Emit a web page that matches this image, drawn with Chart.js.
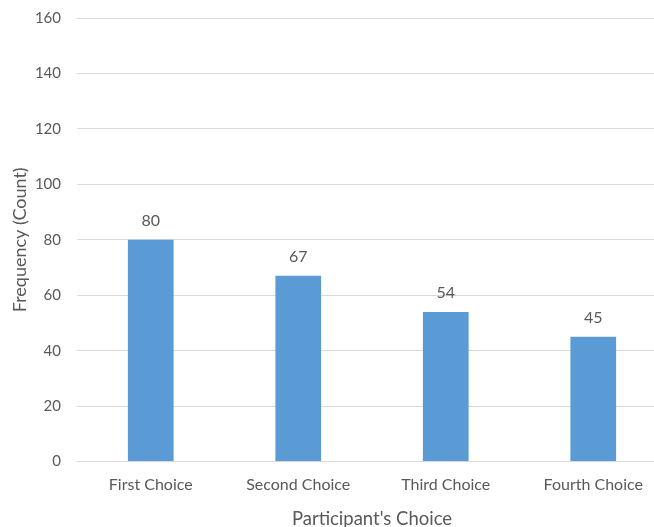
<!DOCTYPE html>
<html>
<head>
<meta charset="utf-8">
<script src="https://cdn.jsdelivr.net/npm/chart.js@4"></script>
<style>
  html, body { margin: 0; padding: 0; overflow: hidden; background: #fff; }
  #wrap { width: 669px; height: 527px; }
</style>
</head>
<body>
<div id="wrap"><canvas id="grafica" width="669" height="527"></canvas></div>
<script>
// datos
const categorias = ["First Choice", "Second Choice", "Third Choice", "Fourth Choice"];
const frecuencias = [80, 67, 54, 45];
const ticksY = [0, 20, 40, 60, 80, 100, 120, 140, 160];

const gris = "#595959";
const fuente = "Lato, 'Open Sans', sans-serif";

// etiquetas encima de cada barra
const etiquetas = {
    id: 'etiquetas',
    afterDatasetsDraw(chart) {
        const ctx = chart.ctx;
        const meta = chart.getDatasetMeta(0);
        ctx.save();
        ctx.fillStyle = gris;
        ctx.font = "16px " + fuente;
        ctx.textAlign = "center";
        ctx.textBaseline = "bottom";
        meta.data.forEach(function (barra, i) {
            ctx.fillText(chart.data.datasets[0].data[i], barra.x, barra.y - 11);
        });
        ctx.restore();
    }
};

new Chart(document.getElementById("grafica"), {
    type: 'bar',
    data: {
        labels: categorias,
        datasets: [{
            data: frecuencias,
            backgroundColor: "#5B9BD5",
            categoryPercentage: 1,
            barPercentage: 0.31
        }]
    },
    options: {
        responsive: false,
        animation: false,
        layout: { padding: { top: 18, right: 2, left: 0, bottom: -3 } },
        plugins: {
            legend: { display: false },
            tooltip: { enabled: false }
        },
        scales: {
            x: {
                grid: { display: false, drawTicks: false },
                border: { color: "#d9d9d9" },
                ticks: { color: gris, font: { family: fuente, size: 16 }, padding: 14, maxRotation: 0 },
                title: { display: true, text: "Participant's Choice", color: gris, font: { family: fuente, size: 18.5 }, padding: { top: -1, bottom: 0 } }
            },
            y: {
                min: 0,
                max: 160,
                afterBuildTicks(axis) { axis.ticks = ticksY.map(v => ({ value: v })); },
                afterFit(axis) { axis.width = 77; axis.paddingTop = 0; },
                grid: { color: "#d9d9d9", drawTicks: false },
                border: { display: false },
                ticks: { color: gris, font: { family: fuente, size: 15 }, padding: 16 },
                title: { display: true, text: "Frequency (Count)", color: gris, font: { family: fuente, size: 18 }, padding: { top: 9, bottom: 0 } }
            }
        }
    },
    plugins: [etiquetas]
});
</script>
</body>
</html>
